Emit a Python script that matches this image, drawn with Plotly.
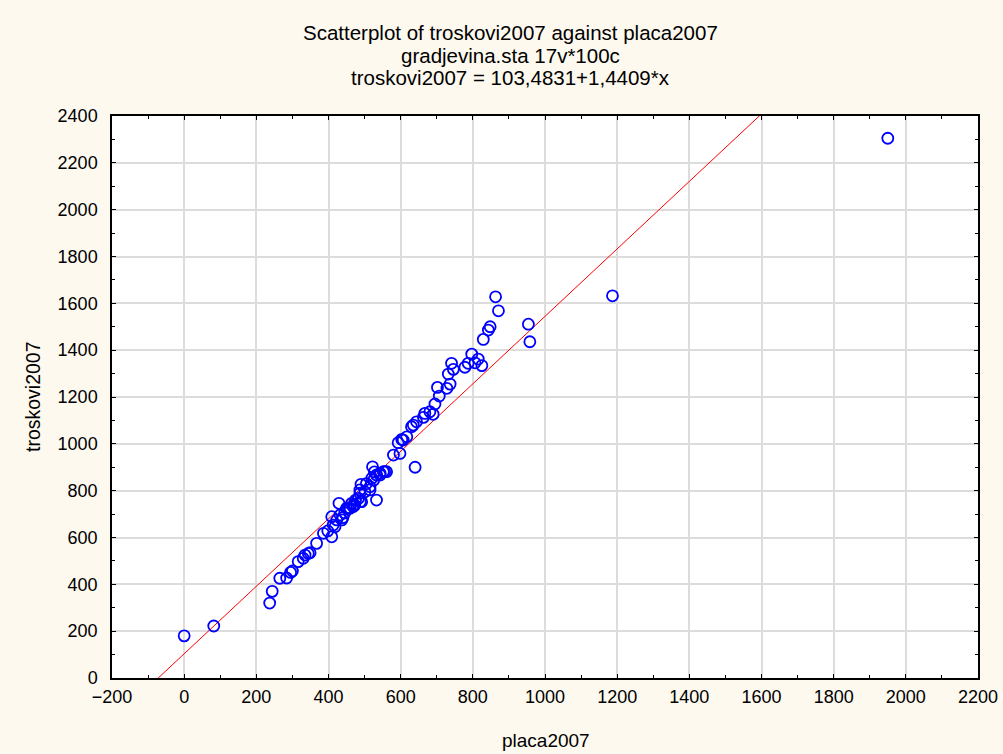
import plotly.graph_objects as go

# Data
placa2007 = [0, 82, 244, 237, 265, 284, 295, 300, 316, 330, 335, 344, 349, 367, 386, 398,
             409, 413, 418, 423, 437, 432, 409, 429, 440, 445, 450, 460, 455, 469, 470, 473,
             464, 475, 483, 492, 488, 487, 487, 501, 490, 505, 515, 515, 520, 525, 527, 522,
             533, 543, 543, 552, 556, 561, 533, 580, 598, 593, 603, 607, 617, 630, 635, 644,
             640, 663, 667, 681, 690, 695, 702, 707, 728, 737, 732, 741, 746, 778, 787, 797,
             806, 815, 825, 829, 843, 848, 863, 871, 954, 958, 1187, 1950]
troskovi2007 = [180, 222, 370, 320, 426, 427, 451, 457, 497, 511, 525, 532, 535, 575, 618, 628,
                603, 653, 646, 675, 675, 696, 689, 746, 685, 705, 725, 725, 725, 732, 740, 739,
                746, 760, 767, 753, 753, 789, 803, 795, 827, 830, 803, 817, 853, 845, 880, 902,
                867, 867, 874, 881, 881, 881, 760, 952, 959, 1005, 1019, 1016, 1030, 1073, 1080, 1094,
                900, 1113, 1130, 1137, 1126, 1170, 1241, 1204, 1237, 1255, 1298, 1344, 1318, 1327, 1344, 1383,
                1346, 1362, 1334, 1446, 1486, 1500, 1628, 1568, 1511, 1436, 1632, 2305]

intercept = 103.4831
slope = 1.4409
line_x = [-200, 2200]
line_y = [intercept + slope * v for v in line_x]

x_ticks = list(range(-200, 2201, 200))
y_ticks = list(range(0, 2401, 200))

title_lines = ["Scatterplot of troskovi2007 against placa2007",
               "gradjevina.sta 17v*100c",
               "troskovi2007 = 103,4831+1,4409*x"]
x_title = "placa2007"
y_title = "troskovi2007"

FONT = "Liberation Sans, Arial, sans-serif"

fig = go.Figure()
fig.add_trace(go.Scatter(x=line_x, y=line_y, mode="lines",
                         line=dict(color="#FF0000", width=1), hoverinfo="skip",
                         showlegend=False))
fig.add_trace(go.Scatter(x=placa2007, y=troskovi2007, mode="markers",
                         marker=dict(symbol="circle-open", size=11, color="#0000FF",
                                     line=dict(width=1.8, color="#0000FF")),
                         showlegend=False, cliponaxis=False))

axis_common = dict(
    automargin=False,
    showgrid=True, gridcolor="#DCDCDC", gridwidth=1.5,
    zeroline=False, showline=True, linecolor="#000000", linewidth=1.5,
    mirror="ticks", ticks="inside", ticklen=4, tickcolor="#000000",
    tickfont=dict(family=FONT, size=18, color="#000000"),
    minor=dict(ticks="inside", ticklen=3, tickcolor="#000000", showgrid=False),
)

fig.update_xaxes(range=[-200, 2200], tickvals=x_ticks, minor_dtick=100,
                 ticklabelstandoff=2, **axis_common)
fig.update_yaxes(range=[0, 2400], tickvals=y_ticks, minor_dtick=100,
                 ticklabelstandoff=9, **axis_common)

annotations = []
for i, t in enumerate(title_lines):
    annotations.append(dict(text=t, xref="paper", yref="paper",
                            x=(510 - 112) / 866, y=1 + (116 - (32 + 23 * i)) / 562,
                            xanchor="center", yanchor="middle", showarrow=False,
                            font=dict(family=FONT, size=20.5, color="#000000")))
annotations.append(dict(text=x_title, xref="paper", yref="paper",
                        x=(546 - 112) / 866, y=-(740 - 678) / 562,
                        xanchor="center", yanchor="middle", showarrow=False,
                        font=dict(family=FONT, size=19, color="#000000")))
annotations.append(dict(text=y_title, xref="paper", yref="paper", textangle=-90,
                        x=-(112 - 33) / 866, y=(678 - 397) / 562,
                        xanchor="center", yanchor="middle", showarrow=False,
                        font=dict(family=FONT, size=19.5, color="#000000")))

fig.update_layout(
    width=1003, height=754,
    margin=dict(l=112, r=25, t=116, b=76),
    paper_bgcolor="#FDF9EF", plot_bgcolor="#FFFFFF",
    annotations=annotations,
)

fig.write_html("out.html")
